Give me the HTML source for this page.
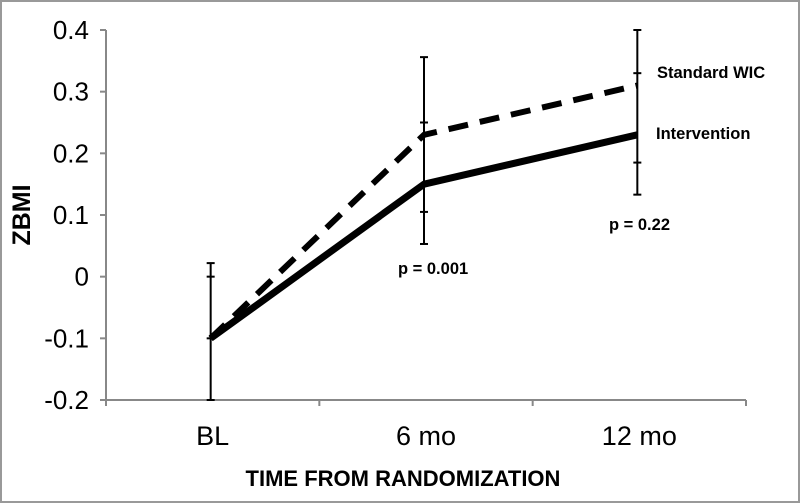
<!DOCTYPE html>
<html><head><meta charset="utf-8"><style>
body{margin:0;background:#fff}
svg{display:block;font-family:"Liberation Sans",Arial,sans-serif}
</style></head><body>
<svg width="800" height="503" viewBox="0 0 800 503">
<rect x="1" y="1" width="798" height="501" fill="#fff" stroke="#999" stroke-width="2"/>
<g id="axes"></g>
<g id="marks"></g>
<text x="30" y="215" transform="rotate(-90 30 215)" text-anchor="middle" font-size="25" font-weight="bold">ZBMI</text>
<text x="403" y="486" text-anchor="middle" font-size="22" font-weight="bold">TIME FROM RANDOMIZATION</text>
<text x="657" y="78" font-size="16.5" font-weight="bold">Standard WIC</text>
<text x="656" y="139" font-size="16.5" font-weight="bold">Intervention</text>
<text x="398" y="274" font-size="16.5" font-weight="bold">p = 0.001</text>
<text x="609" y="230" font-size="16.5" font-weight="bold">p = 0.22</text>
</svg>
<script>
const categories = ["BL","6 mo","12 mo"];
const yTicks = [0.4,0.3,0.2,0.1,0,-0.1,-0.2];
const yTickLabels = ["0.4","0.3","0.2","0.1","0","-0.1","-0.2"];
const interventionValues = [-0.1,0.15,0.23];
const standardValues = [-0.1,0.23,0.31];
const barTop = [0.022,0.356,0.40];
const barUpperCap = [0.0,0.25,0.33];
const barLowerCap = [-0.1,0.105,0.185];
const barBottom = [-0.2,0.053,0.133];

const NS="http://www.w3.org/2000/svg";
const X0=106,X1=746,Y0=400,Ytop=30;
function y(v){return Y0-(v+0.2)/0.6*(Y0-Ytop);}
function x(i){const w=(X1-X0)/categories.length;return X0+w*(i+0.5);}
function mk(tag,attrs,parent){const e=document.createElementNS(NS,tag);for(const k in attrs)e.setAttribute(k,attrs[k]);parent.appendChild(e);return e;}
const axes=document.getElementById('axes'),marks=document.getElementById('marks');
let e;
e=mk('line',{x1:X0,y1:Ytop,x2:X0,y2:Y0+4,stroke:'#888','stroke-width':2},axes);


e=mk('line',{x1:X0-4,y1:Y0,x2:X1,y2:Y0,stroke:'#888','stroke-width':2},axes);


yTicks.forEach((t,i)=>{
 e=mk('line',{x1:X0-6,y1:y(t),x2:X0,y2:y(t),stroke:'#888','stroke-width':2},axes);
 
 
 e=mk('text',{x:89,y:y(t)+9,'text-anchor':'end','font-size':26},axes);
 e.textContent=yTickLabels[i];
 
 
});
const w=(X1-X0)/categories.length;
for(let i=0;i<=categories.length;i++){
 e=mk('line',{x1:X0+w*i,y1:Y0,x2:X0+w*i,y2:Y0+6,stroke:'#888','stroke-width':2},axes);
 
 
}
categories.forEach((c,i)=>{
 e=mk('text',{x:x(i),y:445,'text-anchor':'middle','font-size':27},axes);
 e.textContent=c;
 
 
});
categories.forEach((c,i)=>{
 const cx=x(i)-2;
 e=mk('line',{x1:cx,y1:y(barTop[i]),x2:cx,y2:y(barBottom[i]),stroke:'#000','stroke-width':2},marks);
 
 
 [barTop[i],barUpperCap[i],barLowerCap[i],barBottom[i]].forEach(v=>{
  e=mk('line',{x1:cx-4,y1:y(v),x2:cx+4,y2:y(v),stroke:'#000','stroke-width':2},marks);
  
  
 });
});
function pts(arr){return arr.map((v,i)=>(x(i)-2)+','+y(v)).join(' ');}
e=mk('polyline',{points:pts(standardValues),fill:'none',stroke:'#000','stroke-width':6,'stroke-dasharray':'20,12'},marks);


e=mk('polyline',{points:pts(interventionValues),fill:'none',stroke:'#000','stroke-width':7,'stroke-linejoin':'round'},marks);


</script>
</body></html>
